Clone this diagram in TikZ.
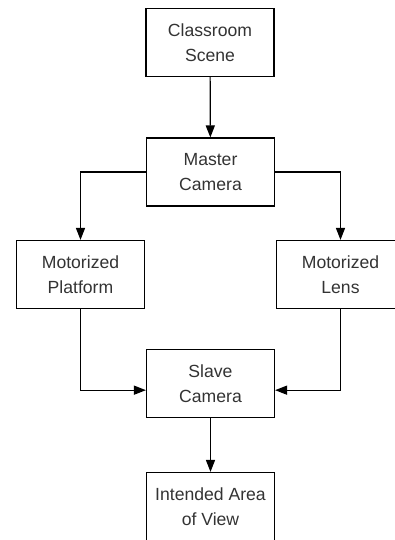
\documentclass[tikz,border=0pt]{standalone}
\usepackage{fontspec}
\setmainfont{Liberation Sans}
\usetikzlibrary{arrows.meta}

\begin{document}
\begin{tikzpicture}[x=0.75pt, y=-0.75pt,
    box/.style={draw, line width=0.9pt, minimum width=96pt, minimum height=51pt,
        align=center, inner sep=0pt, text=black!80,
        font=\fontsize{13.2}{18.5}\selectfont},
    flow/.style={line width=0.9pt, -{Triangle[length=9pt, width=6.8pt]}}]
    % Page
    \clip (0,0) rectangle (395,540);

    % Boxes
    \node[box] (scene) at (210,42.5) {Classroom\\Scene};
    \node[box] (master) at (210.5,172) {Master\\Camera};
    \node[box] (platform) at (80.5,274.5) {Motorized\\Platform};
    \node[box] (lens) at (340.5,274.5) {Motorized\\Lens};
    \node[box] (slave) at (210.5,383.5) {Slave\\Camera};
    \node[box] (view) at (210.5,506.5) {Intended Area\\of View};

    % Connectors
    \draw[flow] (scene) -- (master);
    \draw[flow] (master.west) -| (platform.north);
    \draw[flow] (master.east) -| (lens.north);
    \draw[flow] (platform.south) |- ([yshift=-5pt]slave.west);
    \draw[flow] (lens.south) |- ([yshift=-5pt]slave.east);
    \draw[flow] (slave) -- (view);
\end{tikzpicture}
\end{document}
